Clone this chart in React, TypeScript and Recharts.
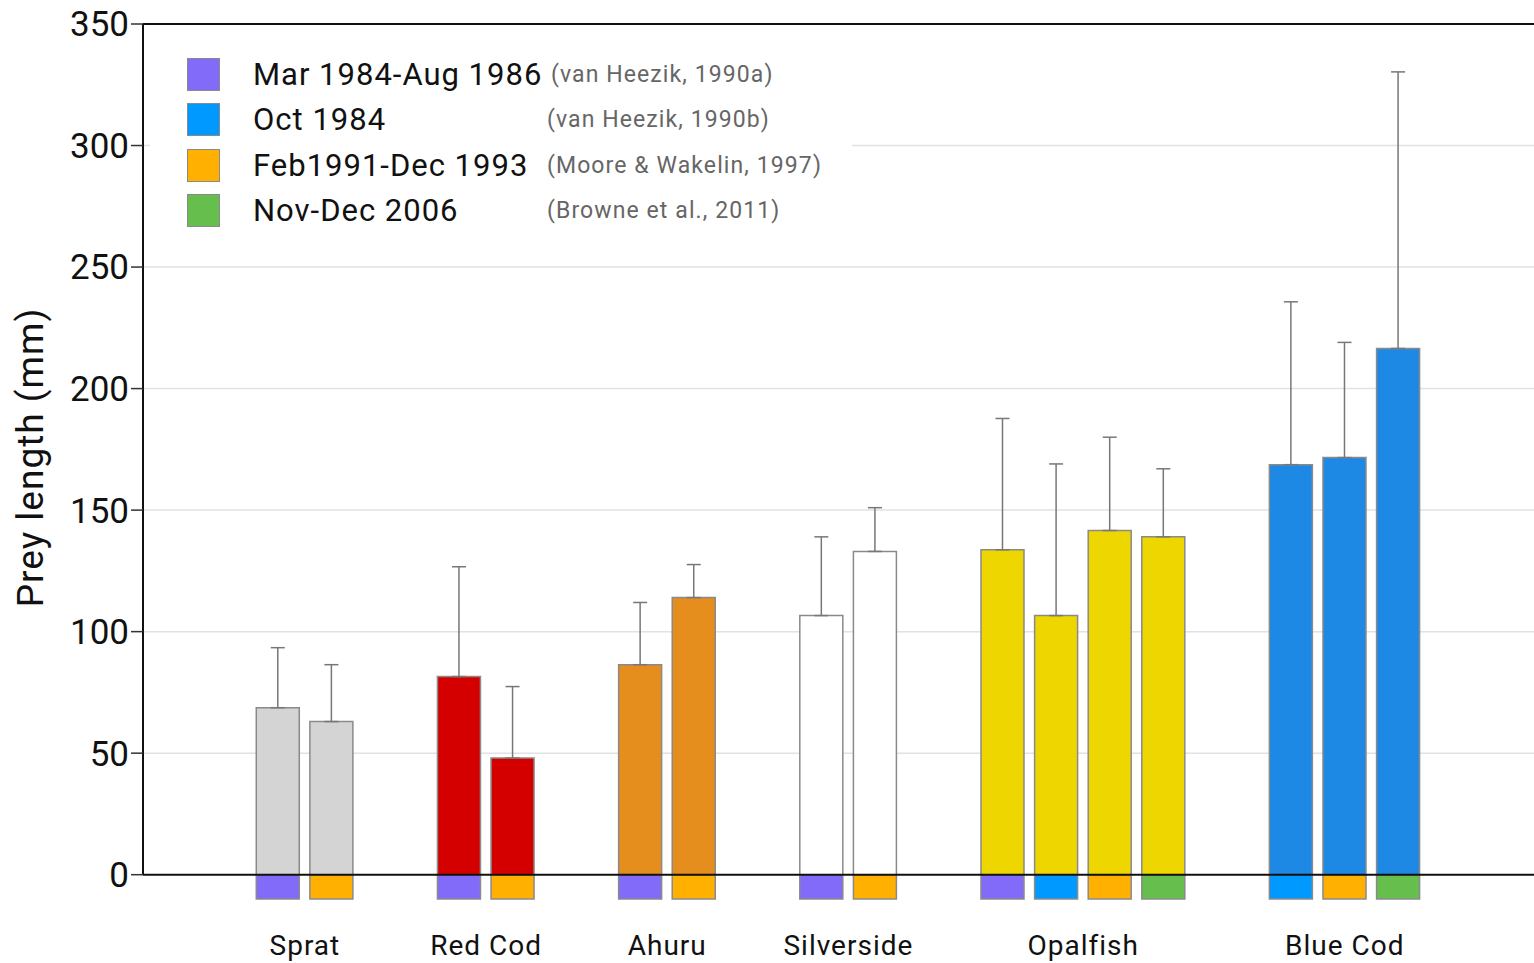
import React from "react";
import {
  Bar,
  BarChart,
  CartesianGrid,
  Cell,
  ErrorBar,
  Legend,
  ReferenceLine,
  XAxis,
  YAxis,
} from "recharts";

// prey species (x groups) and their bar colours
const preyNames = ["Sprat", "Red Cod", "Ahuru", "Silverside", "Opalfish", "Blue Cod"];
const preyColors = ["#d4d4d4", "#d40000", "#e58e1e", "#ffffff", "#eed600", "#1e88e5"];

// studies (legend + little tag under each bar)
const studyPeriods = ["Mar 1984-Aug 1986", "Oct 1984", "Feb1991-Dec 1993", "Nov-Dec 2006"];
const studyRefs = [
  "(van Heezik, 1990a)",
  "(van Heezik, 1990b)",
  "(Moore & Wakelin, 1997)",
  "(Browne et al., 2011)",
];
const studyColors = ["#836bfa", "#0099ff", "#ffb000", "#66bf4d"];

// one entry per bar
const barPrey = [0, 0, 1, 1, 2, 2, 3, 3, 4, 4, 4, 4, 5, 5, 5];
const barStudy = [0, 2, 0, 2, 0, 2, 0, 2, 0, 1, 2, 3, 1, 2, 3];
const meanLength = [68.7, 63, 81.5, 48, 86.4, 114, 106.6, 133, 133.7, 106.6, 141.6, 139, 168.7, 171.6, 216.5];
const sdLength = [24.7, 23.4, 45.2, 29.4, 25.6, 13.6, 32.4, 18, 54, 62.4, 38.4, 28, 67, 47.4, 113.8];

const yTicks = [0, 50, 100, 150, 200, 250, 300, 350];
const gridValues = [50, 100, 150, 200, 250, 300];

// layout helpers
const GROUP_GAP = 1.38; // extra slots between species groups
const TAG = -10; // depth of the study tag below zero
const X_MIN = -2.52;
const X_MAX = 23.43;

const rows = meanLength.map((m, i) => ({
  slot: i + GROUP_GAP * barPrey[i],
  mean: m,
  tag: TAG,
  err: [0, sdLength[i]],
}));

const groupTicks = preyNames.map((_, g) => {
  const s = rows.filter((_, i) => barPrey[i] === g).map((r) => r.slot);
  return s.reduce((a, b) => a + b, 0) / s.length;
});

const font = "Roboto, 'Noto Sans', sans-serif";

function StudyLegend() {
  return (
    <div
      style={{
        background: "#fff",
        width: 702,
        height: 200,
        fontFamily: font,
        position: "relative",
      }}
    >
      {studyPeriods.map((p, i) => (
        <div
          key={p}
          style={{
            position: "absolute",
            top: 18 + i * 45.5,
            left: 0,
            height: 32,
            display: "flex",
            alignItems: "center",
            width: 702,
          }}
        >
          <div
            style={{
              position: "absolute",
              left: 37,
              width: 31,
              height: 31,
              background: studyColors[i],
              border: "1px solid #8a8a8a",
            }}
          />
          <span
            style={{
              position: "absolute",
              left: 103,
              fontSize: 31,
              letterSpacing: 1,
              color: "#111",
              whiteSpace: "nowrap",
            }}
          >
            {p}
          </span>
          <span
            style={{
              position: "absolute",
              left: i === 0 ? 401 : 397,
              fontSize: 23,
              letterSpacing: 1.1,
              color: "#666",
              whiteSpace: "nowrap",
            }}
          >
            {studyRefs[i]}
          </span>
        </div>
      ))}
    </div>
  );
}

export default function App() {
  return (
    <div style={{ position: "absolute", left: 0, top: 0, background: "#fff" }}>
      <BarChart
        width={1534}
        height={963}
        data={rows}
        stackOffset="sign"
        barSize={43}
        margin={{ top: 24, right: 0, left: 0, bottom: 4 }}
      >
        <CartesianGrid
          vertical={false}
          horizontalValues={gridValues}
          stroke="#e2e2e2"
          strokeWidth={1.5}
        />
        <XAxis
          dataKey="slot"
          type="number"
          domain={[X_MIN, X_MAX]}
          allowDataOverflow
          ticks={groupTicks}
          tickFormatter={(v: number) => preyNames[groupTicks.indexOf(v)] ?? ""}
          axisLine={false}
          tickLine={false}
          tickSize={0}
          tickMargin={36}
          height={60}
          interval={0}
          tick={{ fontSize: 28, fill: "#111", fontFamily: font, letterSpacing: 1 }}
        />
        <YAxis
          type="number"
          domain={[TAG, 350]}
          ticks={yTicks}
          width={143}
          axisLine={false}
          tickSize={12}
          tickLine={{ stroke: "#333", strokeWidth: 1.5 }}
          tick={{ fontSize: 35, fill: "#111", fontFamily: font }}
          label={{
            value: "Prey length (mm)",
            angle: -90,
            position: "insideLeft",
            offset: 30,
            dy: -4,
            style: { textAnchor: "middle", fontSize: 37, letterSpacing: 1, fill: "#111", fontFamily: font },
          }}
        />
        <Bar dataKey="mean" stackId="s" stroke="#8a8a8a" strokeWidth={1.5} isAnimationActive={false}>
          {rows.map((_, i) => (
            <Cell key={i} fill={preyColors[barPrey[i]]} />
          ))}
          <ErrorBar dataKey="err" direction="y" width={7} stroke="#777" strokeWidth={1.5} />
        </Bar>
        <Bar dataKey="tag" stackId="s" stroke="#8a8a8a" strokeWidth={1.5} isAnimationActive={false}>
          {rows.map((_, i) => (
            <Cell key={i} fill={studyColors[barStudy[i]]} />
          ))}
        </Bar>
        <ReferenceLine y={0} stroke="#111" strokeWidth={2} />
        <ReferenceLine y={350} stroke="#111" strokeWidth={2} />
        <ReferenceLine
          segment={[
            { x: X_MIN, y: 0 },
            { x: X_MIN, y: 350 },
          ]}
          stroke="#111"
          strokeWidth={2}
        />
        <Legend
          verticalAlign="middle"
          align="center"
          layout="horizontal"
          content={() => <StudyLegend />}
          wrapperStyle={{ left: 150, top: 40, width: 702, height: 200 }}
        />
      </BarChart>
    </div>
  );
}
